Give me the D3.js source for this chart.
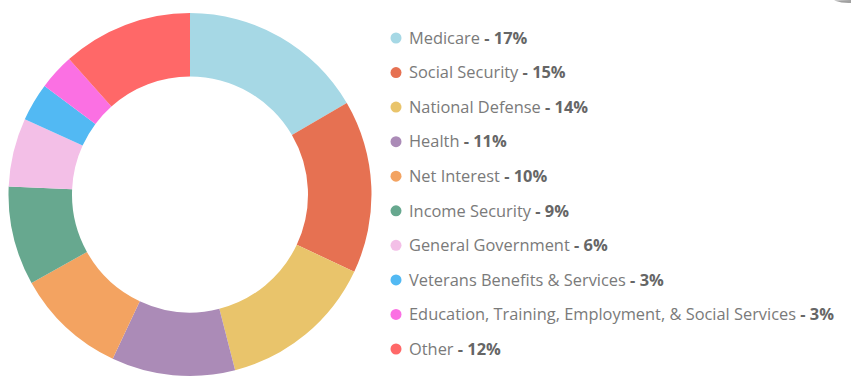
<!DOCTYPE html>
<html><head><meta charset="utf-8">
<script src="https://cdn.jsdelivr.net/npm/d3@7"></script>
<style>
html,body{margin:0;padding:0;background:#fff;}
svg{display:block;}
</style></head>
<body>
<svg id="chart" width="851" height="378"></svg>
<script>
const categories = ["Medicare","Social Security","National Defense","Health","Net Interest","Income Security","General Government","Veterans Benefits & Services","Education, Training, Employment, & Social Services","Other"];
const values = [16.6, 15.4, 14.0, 11.0, 9.9, 8.8, 6.1, 3.4, 3.2, 11.6];
const pctLabels = ["17%","15%","14%","11%","10%","9%","6%","3%","3%","12%"];
const colors = ["#a6d8e5","#e67152","#e9c46b","#ab8bb7","#f3a361","#67a88f","#f3bfe7","#52b9f3","#fb70e3","#ff6868"];

const svg = d3.select("#chart");
const cx = 190, cy = 194.5, rOuter = 181.5, rInner = 118;

const data = categories.map((c,i)=>({name:c, value:values[i], pct:pctLabels[i], color:colors[i]}));
const pie = d3.pie().value(d=>d.value).sort(null);
const arc = d3.arc().innerRadius(rInner).outerRadius(rOuter);

svg.append("g").attr("transform",`translate(${cx},${cy})`)
  .selectAll("path").data(pie(data)).join("path")
  .attr("d",arc).attr("fill",d=>d.data.color);

// small decorative artifact top-right
svg.append("path").attr("d","M834,0.5 Q843,3.5 851,3 L851,0 Z").attr("fill","#8a8a8a").attr("opacity",0.8);

const y = d3.scalePoint().domain(categories).range([38,349]);
const leg = svg.append("g").selectAll("g").data(data).join("g")
  .attr("transform",d=>`translate(0,${y(d.name)})`);
leg.append("circle").attr("cx",396).attr("cy",0).attr("r",5.5).attr("fill",d=>d.color);
const t = leg.append("text").attr("x",409).attr("y",0).attr("dy","0.35em")
  .style("font-family","'Open Sans', sans-serif").style("font-size","16.4px");
t.append("tspan").attr("fill","#7a7a7a").text(d=>d.name + " ");
t.append("tspan").attr("fill","#666").attr("font-weight","bold").text(d=>"- " + d.pct);
</script>
</body></html>
